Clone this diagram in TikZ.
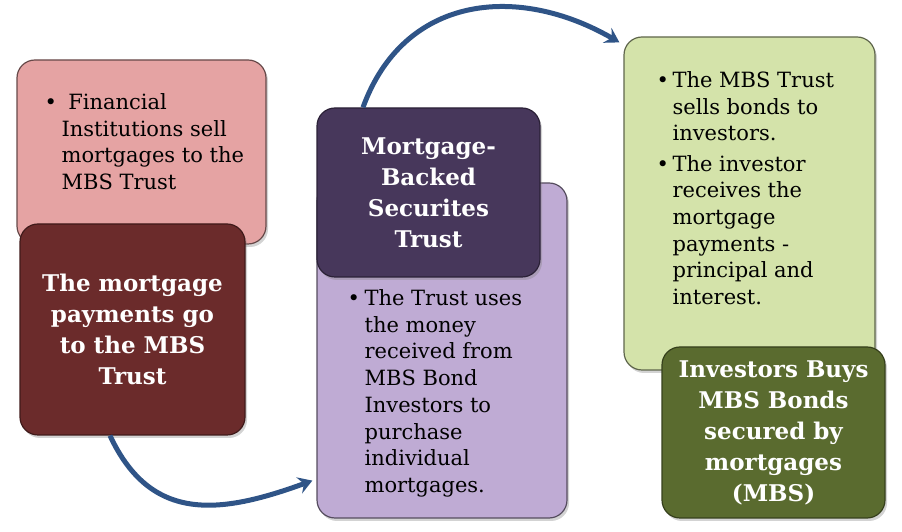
\documentclass[tikz,border=0pt]{standalone}
\usepackage{fontspec}
\setmainfont{DejaVu Serif}
\usetikzlibrary{arrows.meta, positioning, shadows}

\definecolor{finpink}{HTML}{E5A3A3}
\definecolor{payred}{HTML}{6B2B2B}
\definecolor{usepurple}{HTML}{BFABD4}
\definecolor{trustpurple}{HTML}{47375B}
\definecolor{sellgreen}{HTML}{D4E3AA}
\definecolor{buygreen}{HTML}{5A6B2F}
\definecolor{flowblue}{HTML}{2F5487}

\newcommand{\bodysize}{\fontsize{21}{26.7}\selectfont}
\newcommand{\headsize}{\fontsize{23}{31}\selectfont\bfseries}

\begin{document}
\begin{tikzpicture}[
      x=1pt, y=1pt,
      box/.style={rectangle, rounded corners=18pt, line width=1.2pt, inner sep=0pt,
                  drop shadow={shadow xshift=2pt, shadow yshift=-3pt, opacity=0.35}},
      lightbox/.style={box, fill=#1, draw=#1!45!black},
      darkbox/.style={box, fill=#1, draw=#1!60!black, text=white,
                      font=\headsize, align=center},
      bullets/.style={inner sep=0pt, font=\bodysize, text=black},
      flow/.style={draw=flowblue, line width=5pt,
                   -{Stealth[length=14pt, width=17pt, inset=5pt]}}
  ]
      \useasboundingbox (0,0) rectangle (902,532);

      % left column
      \node (finbox) [lightbox=finpink, minimum width=249pt, minimum height=184pt]
          at (141.5,380) {};
      \node (fintext) [bullets, below right=31.3pt and 28pt of finbox.north west]
          {\begin{tabular}{@{}p{17pt}@{}l@{}}
           \textbullet & \ Financial\\
                       & Institutions sell\\
                       & mortgages to the\\
                       & MBS Trust
           \end{tabular}};
      \node (paybox) [darkbox=payred, minimum width=225pt, minimum height=211pt]
          at (132.5,202.5) {The mortgage\\payments go\\to the MBS\\Trust};

      % middle column
      \node (usebox) [lightbox=usepurple, minimum width=250pt, minimum height=335pt]
          at (442,181.5) {};
      \node (trustbox) [darkbox=trustpurple, minimum width=223pt, minimum height=169pt]
          at (428.5,339.5) {Mortgage-\\Backed\\Securites\\Trust};
      \node (usetext) [bullets, below right=104.3pt and 31pt of usebox.north west]
          {\begin{tabular}{@{}p{17pt}@{}l@{}}
           \textbullet & The Trust uses\\
                       & the money\\
                       & received from\\
                       & MBS Bond\\
                       & Investors to\\
                       & purchase\\
                       & individual\\
                       & mortgages.
           \end{tabular}};

      % right column
      \node (sellbox) [lightbox=sellgreen, minimum width=251pt, minimum height=333pt]
          at (749.5,328.5) {};
      \node (selltext) [bullets, below right=32.3pt and 33pt of sellbox.north west]
          {\begin{tabular}{@{}p{16pt}@{}l@{}}
           \textbullet & The MBS Trust\\
                       & sells bonds to\\
                       & investors.\\[3.5pt]
           \textbullet & The investor\\
                       & receives the\\
                       & mortgage\\
                       & payments -\\
                       & principal and\\
                       & interest.
           \end{tabular}};
      \node (buybox) [darkbox=buygreen, minimum width=223pt, minimum height=171pt]
          at (773.5,99.5) {Investors Buys\\MBS Bonds\\secured by\\mortgages\\(MBS)};

      % flow arrows
      \draw [flow] ([xshift=-22.5pt]paybox.south)
          to[out=-65, in=200, looseness=1.2] ([shift={(-4pt,38pt)}]usebox.south west);
      \draw [flow] ([xshift=-65.5pt]trustbox.north)
          to[out=70, in=150, looseness=1.15] ([shift={(-4pt,-6pt)}]sellbox.north west);
  \end{tikzpicture}
\end{document}
